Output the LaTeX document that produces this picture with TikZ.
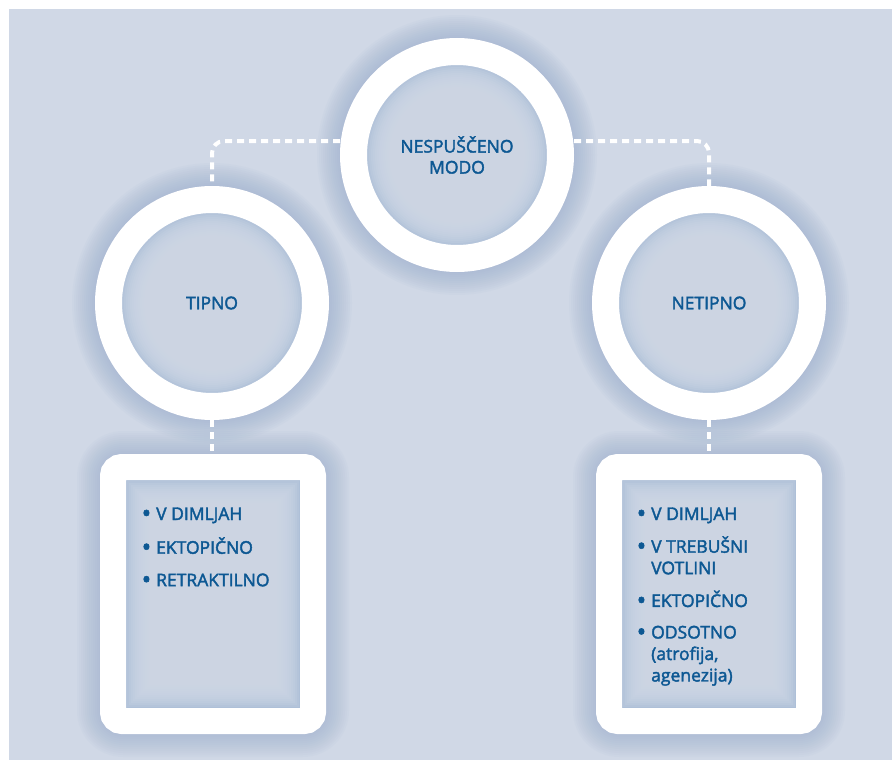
\documentclass[tikz,border=0pt]{standalone}
\usepackage{fontspec}
\setmainfont{Open Sans}
\newfontfamily\medfont{Open Sans}[FakeBold=2.2]
\definecolor{bgc}{HTML}{D0D8E6}
\definecolor{glowc}{HTML}{93AACA}
\definecolor{glowin}{HTML}{AEC0D8}
\definecolor{txtc}{HTML}{0D5893}
\newcommand{\mybul}{\raisebox{-2.2pt}{\scalebox{1.45}{•}}}
\begin{document}
\begin{tikzpicture}[x=1pt,y=-1pt,
  ring/.style={circle, draw=white, line width=27pt, minimum size=207pt, inner sep=0pt,
    font=\medfont\fontsize{17.5}{21}\selectfont, text=txtc, align=center},
  frame/.style={rectangle, draw=white, line width=26pt, rounded corners=9pt,
    minimum width=200pt, minimum height=254pt, inner sep=0pt},
  conn/.style={draw=white, line width=4pt, dash pattern=on 7pt off 5pt, rounded corners=12pt},
  listtext/.style={anchor=base west, inner sep=0pt, text=txtc, font=\medfont\fontsize{17.5}{21.5}\selectfont}]
\useasboundingbox (0,0) rectangle (892,760);
\fill[white] (0,0) rectangle (892,760);
\fill[bgc] (9,9) rectangle (892,760);
\coordinate (cT) at (457,155);
\coordinate (cL) at (212,303);
\coordinate (cR) at (709,303);
\coordinate (cB1) at (213,594);
\coordinate (cB2) at (709,594);
% outer glows of circles
\foreach \c in {cT,cL,cR}{
  \foreach \k in {1,...,12}{
    \fill[glowc,opacity=0.055] (\c) circle ({116+2*\k});
  }
}
% outer glows of boxes
\foreach \bx in {213,709}{
  \foreach \k in {1,...,12}{
    \pgfmathsetmacro\rr{22+2*\k}
    \fill[glowc,opacity=0.05,rounded corners=\rr pt] ({\bx-112-2*\k},{455-2*\k}) rectangle ({\bx+112+2*\k},{733+2*\k});
  }
}
% inner glows of circles
\foreach \c in {cT,cL,cR}{
  \fill[glowin] (\c) circle (92);
  \foreach \k in {1,...,12}{
    \fill[bgc,opacity=0.2] (\c) circle ({92-2*\k});
  }
}
% inner glows of boxes
\foreach \bx in {213,709}{
  \fill[glowin] ({\bx-88},479) rectangle ({\bx+88},709);
  \foreach \k in {1,...,12}{
    \fill[bgc,opacity=0.2] ({\bx-88+2*\k},{479+2*\k}) rectangle ({\bx+88-2*\k},{709-2*\k});
  }
}
% nodes
\node[ring] (top) at (cT) {NESPUŠČENO\\MODO};
\node[ring] (tipno) at (cL) {TIPNO};
\node[ring] (netipno) at (cR) {NETIPNO};
\node[frame] (box1) at (cB1) {};
\node[frame] (box2) at (cB2) {};
\node[listtext] (list1) at (141.5,520) {\begin{tabular}[t]{@{}p{14.5pt}@{}l@{}}
\mybul& V DIMLJAH\\[11pt]
\mybul& EKTOPIČNO\\[11pt]
\mybul& RETRAKTILNO
\end{tabular}};
\node[listtext] (list2) at (636.5,520) {\begin{tabular}[t]{@{}p{14.5pt}@{}l@{}}
\mybul& V DIMLJAH\\[10pt]
\mybul& V TREBUŠNI\\
 & VOTLINI\\[10pt]
\mybul& EKTOPIČNO\\[10pt]
\mybul& ODSOTNO\\
 & (atrofija,\\
 & agenezija)
\end{tabular}};
% connectors
\draw[conn] ([yshift=14pt]top.west) -| (tipno.north);
\draw[conn] ([yshift=14pt]top.east) -| (netipno.north);
\draw[conn] (tipno.south) -- (tipno.south |- box1.north);
\draw[conn] (netipno.south) -- (netipno.south |- box2.north);
\end{tikzpicture}
\end{document}
